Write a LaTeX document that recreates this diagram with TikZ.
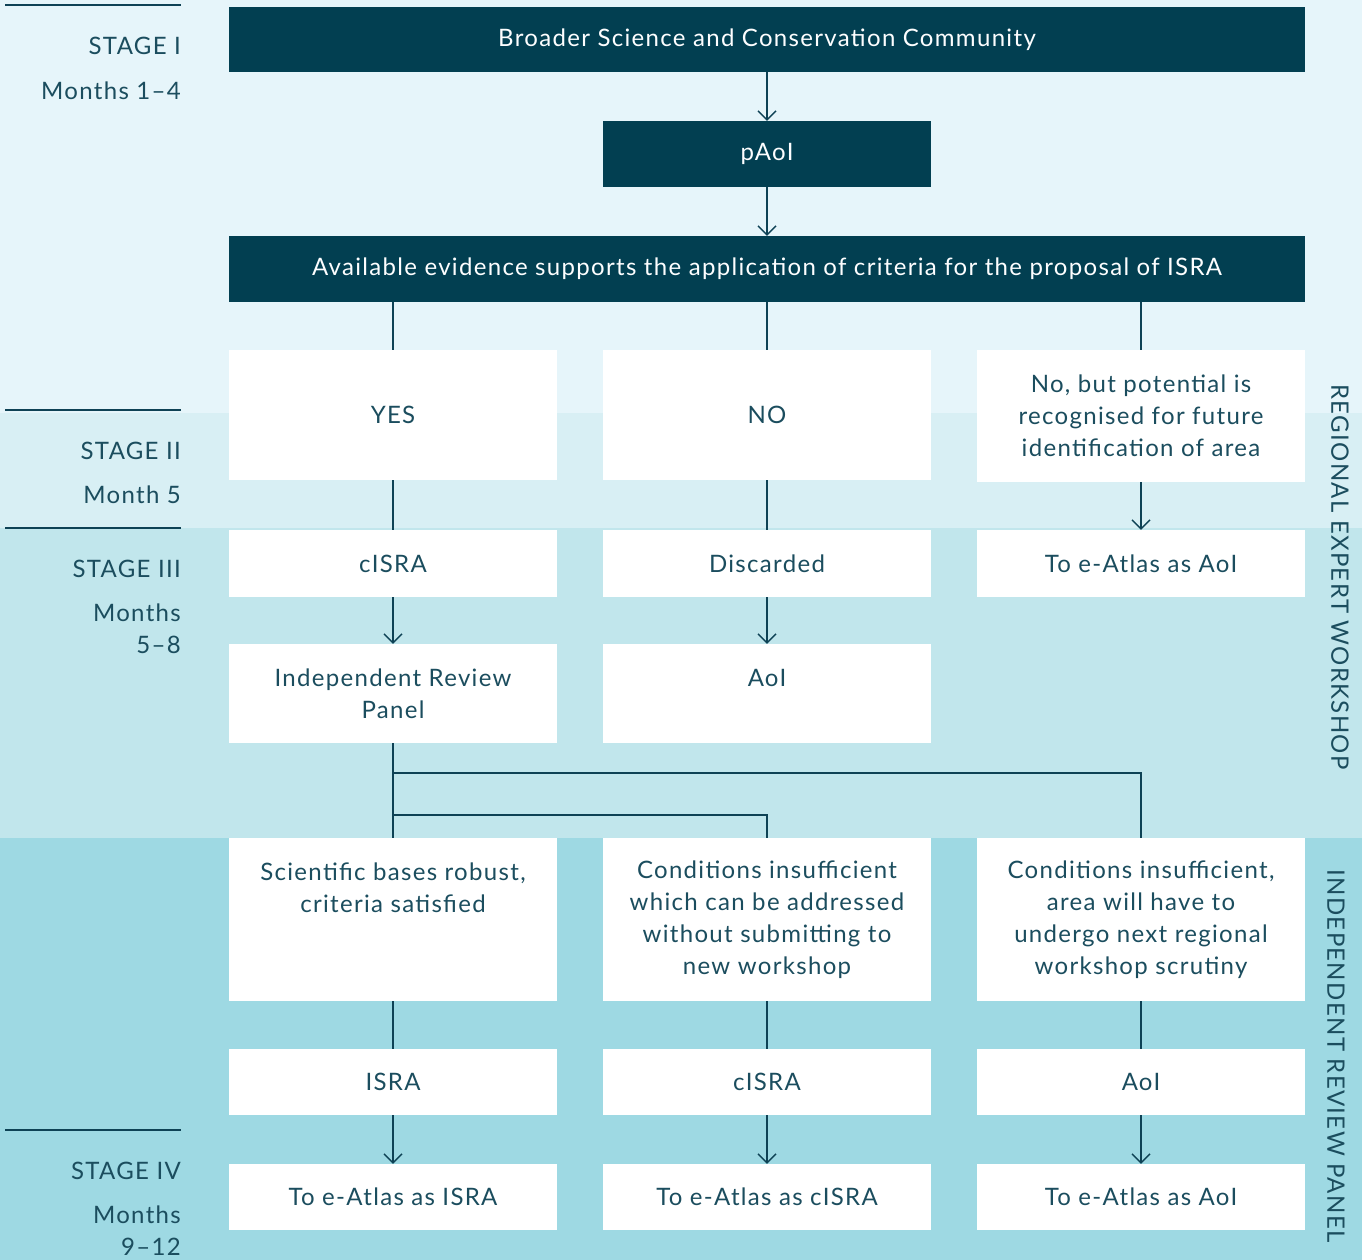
\documentclass[tikz,border=0pt]{standalone}
\usepackage{fontspec}
\setmainfont{Lato}[LetterSpace=5.5]
\usetikzlibrary{arrows.meta,positioning}
\definecolor{bandA}{HTML}{E6F5FA}
\definecolor{bandB}{HTML}{D8EFF4}
\definecolor{bandC}{HTML}{C1E6EC}
\definecolor{bandD}{HTML}{9ED9E3}
\definecolor{darkbox}{HTML}{023F51}
\definecolor{ink}{HTML}{1B4D5E}
\definecolor{linec}{HTML}{0E4255}

\begin{document}
\begin{tikzpicture}[x=1pt,y=-1pt,
  font=\fontsize{24}{32}\selectfont,
  dbox/.style={fill=darkbox,text=white!94!bandA,inner sep=0pt,align=center},
  wbox/.style={fill=white,text=ink,inner sep=0pt,align=center,minimum width=328pt},
  stagelbl/.style={text=ink,anchor=east,align=right,inner sep=0pt},
  sidelbl/.style={text=ink,rotate=-90,inner sep=0pt},
  link/.style={draw=linec,line width=1.4pt},
  arr/.style={link,-{Straight Barb[length=9pt,width=18pt]}}]
\useasboundingbox (0,0) rectangle (1362,1260);
% Background bands
\fill[bandA] (0,0) rectangle (1362,413);
\fill[bandB] (0,413) rectangle (1362,528);
\fill[bandC] (0,528) rectangle (1362,838);
\fill[bandD] (0,838) rectangle (1362,1260);
% Stage rules and labels
\foreach \y in {5,410,528,1130}
  \draw[linec,line width=1.5pt] (5,\y) -- (181,\y);
\node[stagelbl] (s1) at (181,46) {STAGE I};
\node[stagelbl] (m1) at (181,91) {Months 1–4};
\node[stagelbl] (s2) at (181,451) {STAGE II};
\node[stagelbl] (m2) at (181,495) {Month 5};
\node[stagelbl] (s3) at (181,569) {STAGE III};
\node[stagelbl] (m3) at (181,629) {Months\\5–8};
\node[stagelbl] (s4) at (181,1171) {STAGE IV};
\node[stagelbl] (m4) at (181,1231) {Months\\9–12};
% Side labels
\node[sidelbl] (rew) at (1340,577) {REGIONAL EXPERT WORKSHOP};
\node[sidelbl] (irpl) at (1336,1056) {INDEPENDENT REVIEW PANEL};
% Stage I
\node[dbox,minimum width=1076pt,minimum height=65pt] (bsc) at (767,39.5) {Broader Science and Conservation Community};
\node[dbox,minimum width=328pt,minimum height=66pt] (paoi) at (767,154) {pAoI};
\node[dbox,minimum width=1076pt,minimum height=66pt] (avail) at (767,269) {Available evidence supports the application of criteria for the proposal of ISRA};
% Stage II
\node[wbox,minimum height=130pt] (yes) at (393,415) {YES};
\node[wbox,minimum height=130pt] (no) at (767,415) {NO};
\node[wbox,minimum height=132pt] (nobut) at (1141,416) {No, but potential is\\recognised for future\\identification of area};
% Stage III
\node[wbox,minimum height=67pt] (cisra) at (393,563.5) {cISRA};
\node[wbox,minimum height=67pt] (disc) at (767,563.5) {Discarded};
\node[wbox,minimum height=67pt] (toaoi) at (1141,563.5) {To e-Atlas as AoI};
\node[wbox,minimum height=99pt] (irp) at (393,693.5) {Independent Review\\Panel};
\node[wbox,minimum height=99pt] (aoi) at (767,693.5) {AoI\\~};
% Review outcomes
\node[wbox,minimum height=163pt] (sci) at (393,919.5) {Scientific bases robust,\\criteria satisfied\\~\\~};
\node[wbox,minimum height=163pt] (cond) at (767,919.5) {Conditions insufficient\\which can be addressed\\without submitting to\\new workshop};
\node[wbox,minimum height=163pt] (cond2) at (1141,919.5) {Conditions insufficient,\\area will have to\\undergo next regional\\workshop scrutiny};
\node[wbox,minimum height=66pt] (isra) at (393,1082) {ISRA};
\node[wbox,minimum height=66pt] (cisra2) at (767,1082) {cISRA};
\node[wbox,minimum height=66pt] (aoi2) at (1141,1082) {AoI};
% Stage IV
\node[wbox,minimum height=66pt] (ea1) at (393,1197) {To e-Atlas as ISRA};
\node[wbox,minimum height=66pt] (ea2) at (767,1197) {To e-Atlas as cISRA};
\node[wbox,minimum height=66pt] (ea3) at (1141,1197) {To e-Atlas as AoI};
% Connectors
\draw[arr] (bsc) -- (paoi);
\draw[arr] (paoi) -- (avail);
\draw[link] (avail.south -| yes) -- (yes);
\draw[link] (avail.south -| no) -- (no);
\draw[link] (avail.south -| nobut) -- (nobut);
\draw[link] (yes) -- (cisra);
\draw[link] (no) -- (disc);
\draw[arr] (nobut) -- (toaoi);
\draw[arr] (cisra) -- (irp);
\draw[arr] (disc) -- (aoi);
\draw[link] (irp) -- (sci);
\coordinate (ja) at (393,773);
\coordinate (jb) at (393,815);
\draw[link] (ja) -| (cond2);
\draw[link] (jb) -| (cond);
\draw[link] (sci) -- (isra);
\draw[link] (cond) -- (cisra2);
\draw[link] (cond2) -- (aoi2);
\draw[arr] (isra) -- (ea1);
\draw[arr] (cisra2) -- (ea2);
\draw[arr] (aoi2) -- (ea3);
\end{tikzpicture}
\end{document}
